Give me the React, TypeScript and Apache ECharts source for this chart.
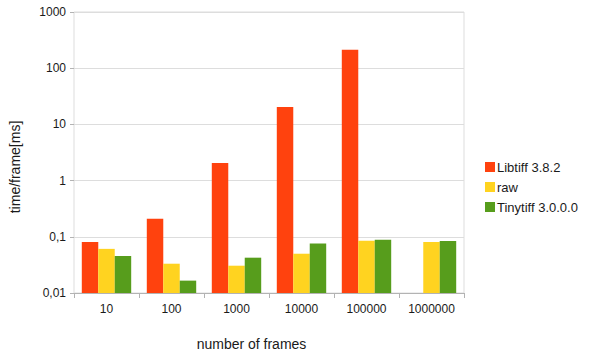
import React, { useEffect, useRef } from "react";
import * as echarts from "echarts";

const categories = ["10", "100", "1000", "10000", "100000", "1000000"];
const libtiff: (number | null)[] = [0.081, 0.21, 2.05, 20.4, 213, null];
const raw = [0.061, 0.0332, 0.0306, 0.05, 0.085, 0.081];
const tinytiff = [0.0455, 0.0166, 0.0425, 0.076, 0.089, 0.084];
const seriesNames = ["Libtiff 3.8.2", "raw", "Tinytiff 3.0.0.0"];
const colors = ["#ff420e", "#ffd320", "#579d1c"];
const yTickLabels = ["0,01", "0,1", "1", "10", "100", "1000"];
const yMin = 0.01;

export default function App() {
  const ref = useRef<HTMLDivElement>(null);
  useEffect(() => {
    if (!ref.current) return;
    const chart = echarts.init(ref.current, undefined, { renderer: "svg" });
    const font = "'Liberation Sans', Arial, sans-serif";
    const datasets = [libtiff, raw, tinytiff];
    // decades above the axis minimum (log scale), so bars rise from 0,01
    const toDecades = (v: number) => Math.log10(v / yMin);
    chart.setOption({
      animation: false,
      backgroundColor: "#ffffff",
      textStyle: { fontFamily: font },
      grid: {
        left: 71,
        right: 131,
        top: 12,
        bottom: 66,
        show: true,
        borderColor: "#dddddd",
        borderWidth: 1,
      },
      legend: {
        orient: "vertical",
        left: 480,
        top: 155,
        itemWidth: 10,
        itemHeight: 10,
        itemGap: 6,
        icon: "rect",
        textStyle: { fontSize: 13, color: "#1a1a1a", fontFamily: font, lineHeight: 14, padding: [0, 0, 0, -3] },
        data: seriesNames,
      },
      xAxis: {
        type: "category",
        data: categories,
        name: "number of frames",
        nameLocation: "middle",
        nameGap: 44,
        nameTextStyle: { fontSize: 14, color: "#1a1a1a", fontFamily: font, padding: [0, 35, 0, 0] },
        axisLine: { show: true, lineStyle: { color: "#b3b3b3" } },
        axisTick: { show: true, length: 5, lineStyle: { color: "#b3b3b3" } },
        axisLabel: { fontSize: 12, color: "#1a1a1a", margin: 10, fontFamily: font },
        splitLine: { show: false },
      },
      yAxis: {
        type: "value",
        min: 0,
        max: 5,
        interval: 1,
        name: "time/frame[ms]",
        nameLocation: "middle",
        nameGap: 52,
        nameTextStyle: { fontSize: 14, color: "#1a1a1a", fontFamily: font, padding: [0, 29, 0, 0] },
        axisLine: { show: false },
        axisTick: { show: true, length: 4, lineStyle: { color: "#b3b3b3" } },
        axisLabel: {
          fontSize: 12,
          color: "#1a1a1a",
          margin: 8,
          fontFamily: font,
          formatter: (v: number) => yTickLabels[Math.round(v)] ?? "",
        },
        splitLine: { show: true, lineStyle: { color: "#dddddd" } },
      },
      series: datasets.map((d, i) => ({
        name: seriesNames[i],
        type: "bar",
        data: d.map((v) => (v == null ? "-" : toDecades(v))),
        barGap: "0%",
        barCategoryGap: "24%",
        itemStyle: { color: colors[i] },
      })),
    });
    return () => chart.dispose();
  }, []);
  return <div ref={ref} style={{ width: 595, height: 359, position: "absolute", left: 0, top: 0 }} />;
}
